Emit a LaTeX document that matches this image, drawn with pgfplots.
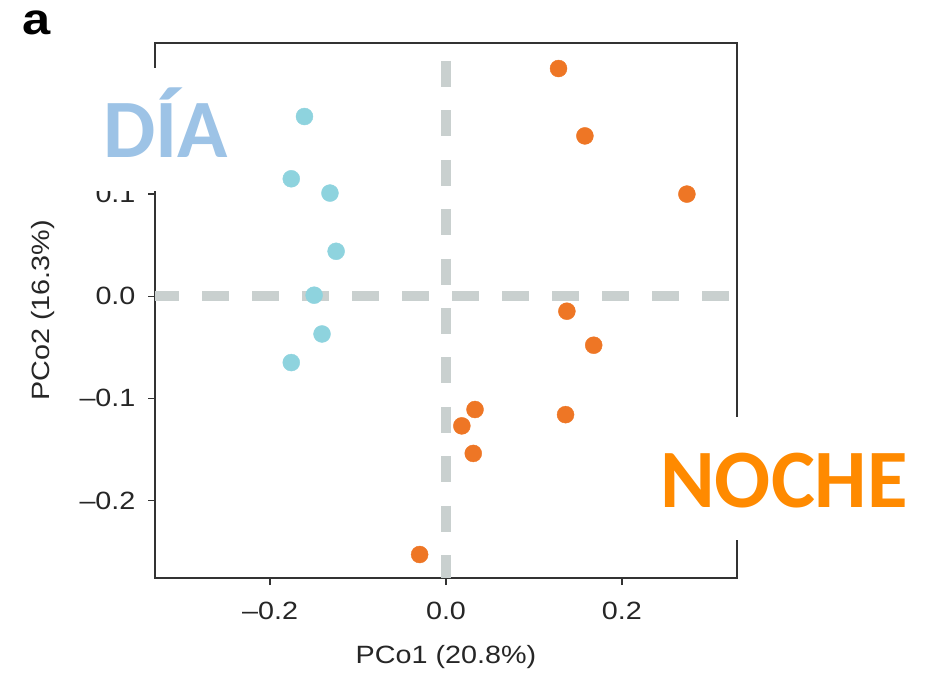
\documentclass[border=0pt]{standalone}
\usepackage{pgfplots}
\pgfplotsset{compat=1.18}
\usepackage{fontspec}
\setmainfont[FakeStretch=1.15]{Liberation Sans}
\newfontfamily\carlito{Carlito}
\definecolor{dia}{HTML}{9DC3E6}
\definecolor{noche}{HTML}{FF8A00}
\definecolor{cyanpt}{HTML}{8ED3DE}
\definecolor{orangept}{HTML}{EE7625}
\definecolor{dashgrey}{HTML}{C9D0CF}
\definecolor{axisgrey}{HTML}{333333}
\begin{document}
\begin{tikzpicture}[x=1pt,y=1pt]
\path[use as bounding box] (0,0) rectangle (933,673);
\begin{axis}[
  at={(155pt,95pt)}, anchor=south west,
  scale only axis, width=582pt, height=535pt,
  xmin=-0.331, xmax=0.331, ymin=-0.276, ymax=0.248,
  axis line style={axisgrey, line width=1.6pt},
  tick style={axisgrey, line width=1.4pt},
  tick align=outside, major tick length=7pt,
  xtick pos=bottom, ytick pos=left,
  xtick={-0.2,0,0.2}, xticklabels={--0.2,0.0,0.2},
  ytick={-0.2,-0.1,0,0.1}, yticklabels={--0.2,--0.1,0.0,0.1},
  tick label style={font=\fontsize{25}{30}\selectfont, text=black!85},
  yticklabel style={xshift=-9pt},
  xticklabel style={yshift=-14pt},
  xlabel={PCo1 (20.8\%)}, ylabel={PCo2 (16.3\%)},
  label style={font=\fontsize{25}{30}\selectfont, text=black!85},
  xlabel style={at={(axis description cs:0.5,-0.1477)}, anchor=center},
  ylabel style={at={(axis description cs:-0.1924,0.5)}, anchor=center},
]
\addplot[only marks, mark=*, mark size=8.5pt, color=cyanpt] coordinates {
  (-0.161,0.176) (-0.176,0.115) (-0.132,0.101) (-0.125,0.044)
  (-0.150,0.001) (-0.141,-0.037) (-0.176,-0.065)
};
\addplot[only marks, mark=*, mark size=8.5pt, color=orangept] coordinates {
  (0.128,0.223) (0.158,0.157) (0.274,0.100) (0.1375,-0.0147)
  (0.168,-0.048) (0.033,-0.111) (0.018,-0.127) (0.031,-0.154)
  (0.136,-0.116) (-0.030,-0.253)
};
\addplot[dashgrey, line width=10pt, dash pattern=on 26pt off 23.4pt, dash phase=31.4pt] coordinates {(0,0.248) (0,-0.276)};
\addplot[dashgrey, line width=10pt, dash pattern=on 27pt off 23pt, dash phase=3pt] coordinates {(-0.331,0) (0.331,0)};
\end{axis}
\fill[white] (90,482) rectangle (245,605);
\node[anchor=base west, inner sep=0, text=dia, font=\carlito\bfseries\fontsize{83}{90}\selectfont] at (103,515) {DÍA};
\fill[white] (645,133) rectangle (933,256);
\node[anchor=base west, inner sep=0, text=noche, font=\carlito\bfseries\fontsize{83}{90}\selectfont] at (660,166) {NOCHE};
\node[anchor=base, inner sep=0, font=\bfseries\fontsize{44}{50}\selectfont] at (36.5,638) {a};
\end{tikzpicture}
\end{document}
